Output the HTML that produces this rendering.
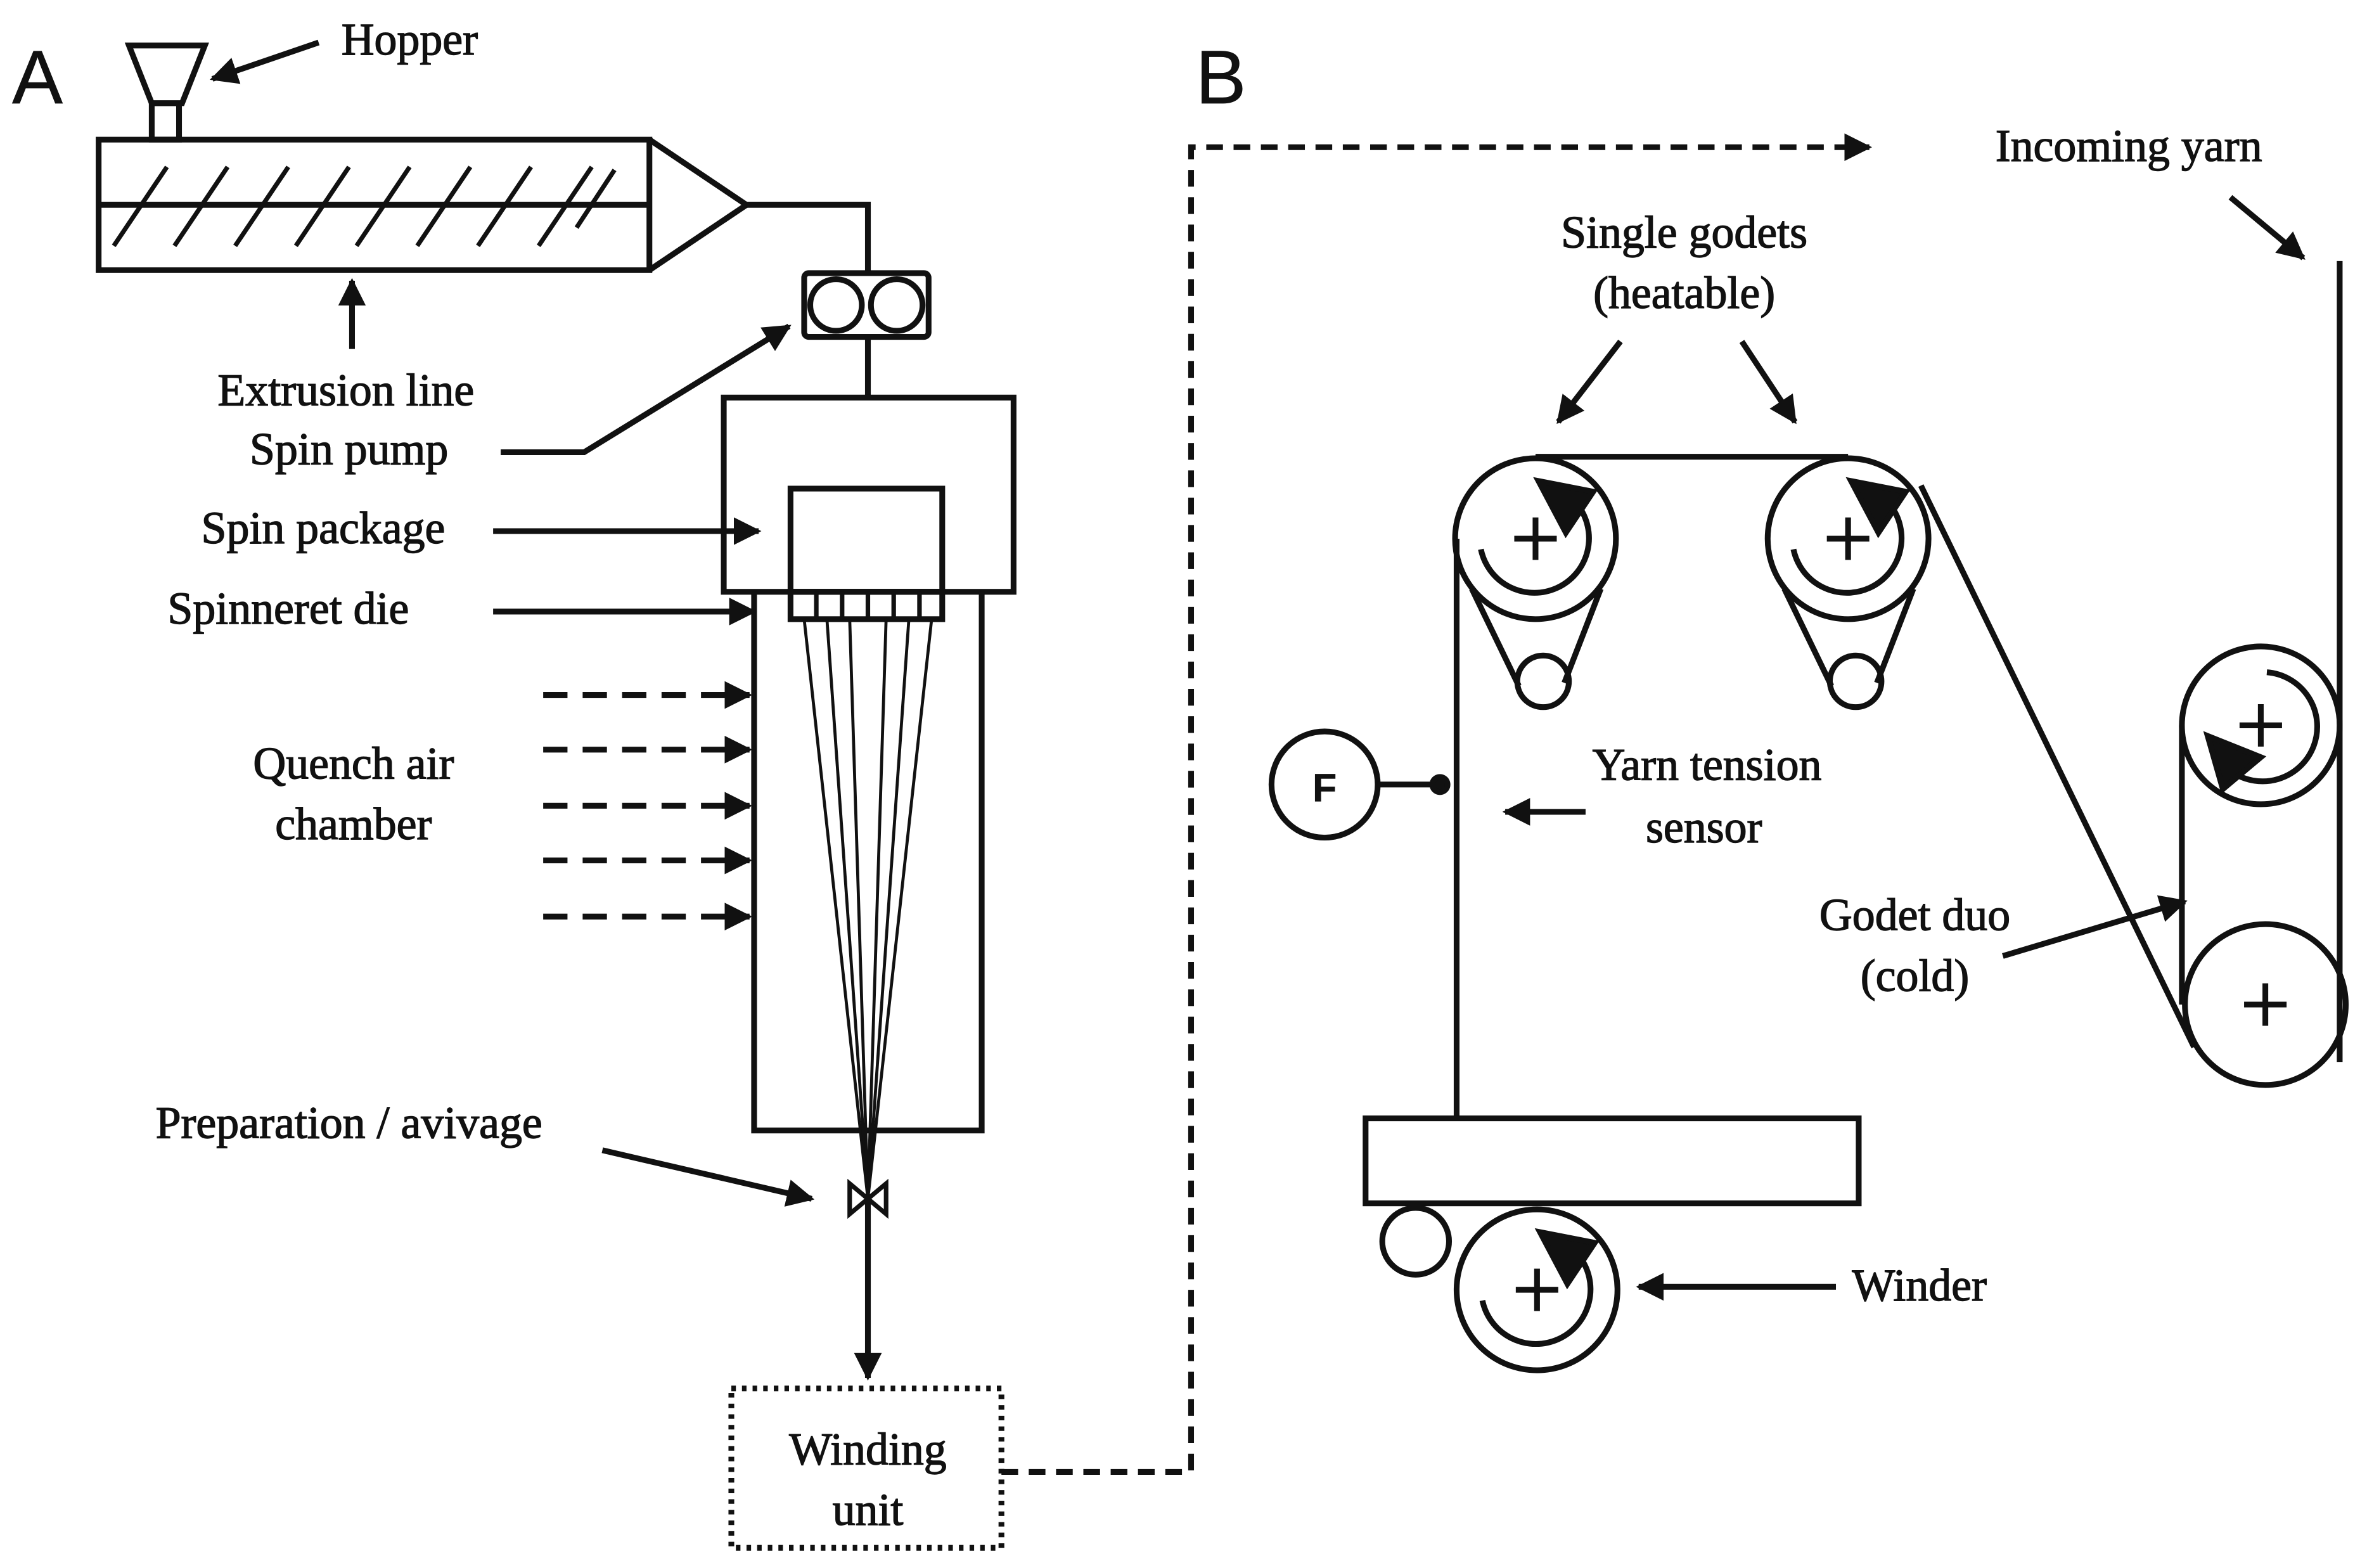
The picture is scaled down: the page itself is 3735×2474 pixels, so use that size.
<!DOCTYPE html>
<html><head><meta charset="utf-8"><style>
html,body{margin:0;padding:0;background:#fff;}
svg{display:block}
text{font-family:"Liberation Serif",serif;font-size:30px;fill:#111;stroke:#111;stroke-width:0.6px;}
.s{font-family:"Liberation Sans",sans-serif;stroke-width:0.3px;}
</style></head><body>
<svg width="3735" height="2474" viewBox="0 0 1560 1033.3" preserveAspectRatio="none" xmlns="http://www.w3.org/2000/svg">
<defs>
<marker id="ah" viewBox="0 0 10 10" refX="9" refY="5" markerWidth="4.8" markerHeight="4.8" orient="auto"><path d="M0,0L10,5L0,10z" fill="#111" stroke="none"/></marker>
</defs>
<g stroke="#111" stroke-width="3.8" fill="none">
<text x="8" y="68" class="s" style="font-size:50px">A</text>
<text x="788" y="68" class="s" style="font-size:50px">B</text>
<path d="M85,30 L135,30 L120,68 L100,68 Z"/>
<rect x="100" y="68" width="18" height="24"/>
<line x1="210" y1="28" x2="140" y2="52" marker-end="url(#ah)"/>
<text x="225" y="36">Hopper</text>
<rect x="65" y="92" width="363" height="86"/>
<line x1="65" y1="135" x2="428" y2="135"/>
<g stroke-width="3">
<line x1="75" y1="162" x2="110" y2="110"/><line x1="115" y1="162" x2="150" y2="110"/>
<line x1="155" y1="162" x2="190" y2="110"/><line x1="195" y1="162" x2="230" y2="110"/>
<line x1="235" y1="162" x2="270" y2="110"/><line x1="275" y1="162" x2="310" y2="110"/>
<line x1="315" y1="162" x2="350" y2="110"/><line x1="355" y1="162" x2="390" y2="110"/>
<line x1="380" y1="150" x2="405" y2="112"/>
</g>
<path d="M428,92 L492,135 L428,178"/>
<path d="M492,135 L572,135 L572,180"/>
<rect x="530" y="180" width="82" height="42" rx="3"/>
<circle cx="551" cy="201" r="17"/><circle cx="591" cy="201" r="17"/>
<line x1="572" y1="222" x2="572" y2="262"/>
<rect x="477" y="262" width="191" height="128"/>
<rect x="521" y="322" width="100" height="68"/>
<rect x="521" y="390" width="100" height="18"/>
<g stroke-width="3"><line x1="538" y1="390" x2="538" y2="408"/><line x1="555" y1="390" x2="555" y2="408"/><line x1="572" y1="390" x2="572" y2="408"/><line x1="589" y1="390" x2="589" y2="408"/><line x1="606" y1="390" x2="606" y2="408"/></g>
<path d="M497,390 L497,745 L647,745 L647,390"/>
<g stroke-width="2">
<line x1="530" y1="408" x2="572" y2="790"/><line x1="545" y1="408" x2="572" y2="790"/><line x1="560" y1="408" x2="572" y2="790"/>
<line x1="584" y1="408" x2="572" y2="790"/><line x1="599" y1="408" x2="572" y2="790"/><line x1="614" y1="408" x2="572" y2="790"/>
</g>
<path d="M560,780 L584,800 L584,780 L560,800 Z" stroke-width="3"/>
<line x1="572" y1="790" x2="572" y2="908" marker-end="url(#ah)"/>
<rect x="482" y="915" width="178" height="105" stroke-dasharray="3,4"/>
<text x="572" y="965" text-anchor="middle">Winding</text>
<text x="572" y="1005" text-anchor="middle">unit</text>
<path d="M660,970 L785,970 L785,97 L1232,97" stroke-dasharray="11,7" marker-end="url(#ah)"/>
<line x1="232" y1="230" x2="232" y2="185" marker-end="url(#ah)"/>
<text x="228" y="267" text-anchor="middle">Extrusion line</text>
<text x="230" y="306" text-anchor="middle">Spin pump</text>
<path d="M330,298 L385,298 L520,215" marker-end="url(#ah)"/>
<text x="213" y="358" text-anchor="middle">Spin package</text>
<line x1="325" y1="350" x2="500" y2="350" marker-end="url(#ah)"/>
<text x="190" y="411" text-anchor="middle">Spinneret die</text>
<line x1="325" y1="403" x2="497" y2="403" marker-end="url(#ah)"/>
<text x="233" y="513" text-anchor="middle">Quench air</text>
<text x="233" y="553" text-anchor="middle">chamber</text>
<g stroke-dasharray="16,10">
<line x1="358" y1="458" x2="494" y2="458" marker-end="url(#ah)"/>
<line x1="358" y1="494" x2="494" y2="494" marker-end="url(#ah)"/>
<line x1="358" y1="531" x2="494" y2="531" marker-end="url(#ah)"/>
<line x1="358" y1="567" x2="494" y2="567" marker-end="url(#ah)"/>
<line x1="358" y1="604" x2="494" y2="604" marker-end="url(#ah)"/>
</g>
<text x="230" y="750" text-anchor="middle">Preparation / avivage</text>
<line x1="397" y1="758" x2="535" y2="790" marker-end="url(#ah)"/>

<text x="1403" y="106" text-anchor="middle">Incoming yarn</text>
<line x1="1470" y1="130" x2="1518" y2="170" marker-end="url(#ah)"/>
<line x1="1542" y1="172" x2="1542" y2="700"/>
<text x="1110" y="163" text-anchor="middle">Single godets</text>
<text x="1110" y="203" text-anchor="middle">(heatable)</text>
<line x1="1068" y1="225" x2="1027" y2="278" marker-end="url(#ah)"/>
<line x1="1148" y1="225" x2="1183" y2="278" marker-end="url(#ah)"/>
<line x1="1012" y1="301" x2="1218" y2="301"/>
<line x1="960" y1="355" x2="960" y2="737"/>
<line x1="1266" y1="320" x2="1446" y2="690"/>
<g>
<circle cx="1012" cy="355" r="53"/>
<circle cx="1017" cy="449" r="17"/>
<line x1="970" y1="388" x2="1001" y2="452"/>
<line x1="1055" y1="388" x2="1031" y2="450"/>
<path d="M976,362 A36,36 0 1 0 1040,333"/>
<path d="M1014,317 L1050,324 L1032,351 Z" fill="#111"/>
<line x1="1012" y1="341" x2="1012" y2="369"/><line x1="998" y1="355" x2="1026" y2="355"/>
</g>
<g transform="translate(206,0)">
<circle cx="1012" cy="355" r="53"/>
<circle cx="1017" cy="449" r="17"/>
<line x1="970" y1="388" x2="1001" y2="452"/>
<line x1="1055" y1="388" x2="1031" y2="450"/>
<path d="M976,362 A36,36 0 1 0 1040,333"/>
<path d="M1014,317 L1050,324 L1032,351 Z" fill="#111"/>
<line x1="1012" y1="341" x2="1012" y2="369"/><line x1="998" y1="355" x2="1026" y2="355"/>
</g>
<circle cx="1490" cy="478" r="52"/>
<circle cx="1493" cy="662" r="53"/>
<line x1="1438" y1="478" x2="1438" y2="662"/>
<path d="M1494,443 A36,36 0 1 1 1470,508"/>
<path d="M1455,485 L1490,499 L1465,520 Z" fill="#111"/>
<line x1="1490" y1="464" x2="1490" y2="492"/><line x1="1476" y1="478" x2="1504" y2="478"/>
<line x1="1493" y1="648" x2="1493" y2="676"/><line x1="1479" y1="662" x2="1507" y2="662"/>
<text x="1262" y="613" text-anchor="middle">Godet duo</text>
<text x="1262" y="653" text-anchor="middle">(cold)</text>
<line x1="1320" y1="630" x2="1440" y2="594" marker-end="url(#ah)"/>
<circle cx="873" cy="517" r="35"/>
<text x="873" y="528" text-anchor="middle" class="s" style="font-size:26px;font-weight:bold">F</text>
<line x1="908" y1="517" x2="948" y2="517"/>
<circle cx="949" cy="517" r="5" fill="#111"/>
<text x="1125" y="514" text-anchor="middle">Yarn tension</text>
<text x="1123" y="555" text-anchor="middle">sensor</text>
<line x1="1045" y1="535" x2="992" y2="535" marker-end="url(#ah)"/>
<rect x="900" y="737" width="325" height="56"/>
<circle cx="933" cy="818" r="22"/>
<g transform="translate(1,495)">
<circle cx="1012" cy="355" r="53"/>
<path d="M976,362 A36,36 0 1 0 1040,333"/>
<path d="M1014,317 L1050,324 L1032,351 Z" fill="#111"/>
<line x1="1012" y1="341" x2="1012" y2="369"/><line x1="998" y1="355" x2="1026" y2="355"/>
</g>
<line x1="1210" y1="848" x2="1080" y2="848" marker-end="url(#ah)"/>
<text x="1265" y="857" text-anchor="middle">Winder</text>
</g>
</svg>
</body></html>
